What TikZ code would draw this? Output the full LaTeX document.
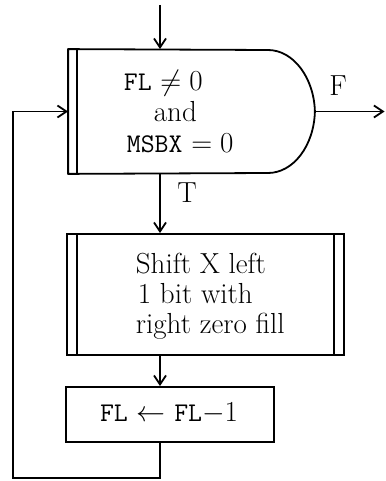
\RequirePackage{fix-cm}
\documentclass[tikz,border=0pt]{standalone}
\usepackage{fontspec}
\usetikzlibrary{arrows.meta,calc}
\newcommand{\mt}[1]{{\fontsize{27}{32}\selectfont\ttfamily #1}}
\begin{document}
\begin{tikzpicture}[x=1pt,y=-1pt,
  line width=1.8pt,
  flow/.style={-{Straight Barb[length=9pt,width=12pt,line width=1.8pt]}},
  box/.style={draw,rectangle,inner sep=0pt},
  lbl/.style={font=\fontsize{29}{34}\selectfont,inner sep=0pt}]
\useasboundingbox (0,0) rectangle (385,481);
% decision (invisible frame node) and its drawn shape
\node[rectangle,inner sep=0pt,minimum width=245pt,minimum height=123pt] (dec) at (191.5,111.5) {};
\draw[line join=round] (dec.north west) -- (268,50)
  .. controls (293.4,50) and (314,77.8) .. (dec.east)
  .. controls (314,145.6) and (293.4,173) .. (268,173)
  -- (dec.south west) -- cycle;
\draw ($(dec.north west)+(9,0)$) -- ($(dec.south west)+(9,0)$);
\node[lbl,anchor=base west] (t1) at (123,91) {\mt{FL} $\neq 0$};
\node[lbl,anchor=base west] (t2) at (153,122) {and};
\node[lbl,anchor=base west] (t3) at (126,153) {\mt{MSBX} $=0$};
% shift box
\node[box,minimum width=277pt,minimum height=121pt] (shift) at (205.5,294.5) {};
\draw ($(shift.north west)+(11,0)$) -- ($(shift.south west)+(11,0)$);
\draw ($(shift.north east)+(-11,0)$) -- ($(shift.south east)+(-11,0)$);
\node[lbl,anchor=base west] (s1) at (135,273) {Shift X left};
\node[lbl,anchor=base west] (s2) at (137,303) {1 bit with};
\node[lbl,anchor=base west] (s3) at (135,333) {right zero fill};
% FL box
\node[box,minimum width=208pt,minimum height=55pt] (fl) at (170,414.5) {};
\node[lbl] (ft) at (169,413) {\mt{FL} $\leftarrow$ \mt{FL}$-1$};
% connectors
\coordinate (in) at (160,5);
\coordinate (out) at (384.5,111.5);
\coordinate (lp) at (13,478);
\draw[flow] (in) -- (in |- dec.north);
\draw[flow] (dec.east) -- (out);
\draw[flow] (in |- dec.south) -- (in |- shift.north);
\draw[flow] (in |- shift.south) -- (in |- fl.north);
\draw[flow] (in |- fl.south) |- (lp) |- (dec.west);
\node[lbl] (F) at (338,86) {F};
\node[lbl] (T) at (187,193) {T};
\end{tikzpicture}
\end{document}
